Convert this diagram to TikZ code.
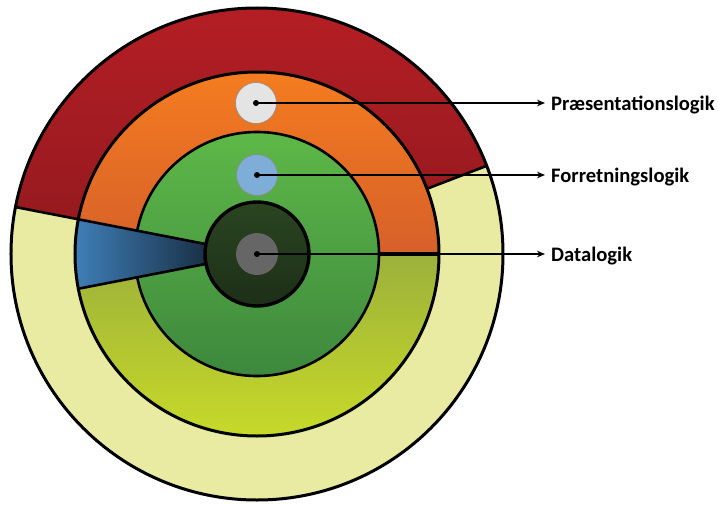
\documentclass[tikz,border=0pt]{standalone}
\usepackage{fontspec}
\setmainfont{Carlito}
\usetikzlibrary{arrows.meta}
\definecolor{lightyel}{HTML}{E9EBA3}
\definecolor{redtop}{HTML}{B81F25}
\definecolor{redbot}{HTML}{961A1F}
\definecolor{orgtop}{HTML}{F47C20}
\definecolor{orgbot}{HTML}{D6602A}
\definecolor{ygtop}{HTML}{9CB13B}
\definecolor{ygbot}{HTML}{CBDD27}
\definecolor{grtop}{HTML}{5EB848}
\definecolor{grbot}{HTML}{3D883D}
\definecolor{dktop}{HTML}{2A4421}
\definecolor{dkbot}{HTML}{1D2F18}
\definecolor{wedgeL}{HTML}{3F7FB8}
\definecolor{wedgeR}{HTML}{0B121A}
\definecolor{coregray}{HTML}{666666}
\definecolor{presgray}{HTML}{E4E4E4}
\definecolor{forrblue}{HTML}{7EAED8}
\begin{document}
\begin{tikzpicture}[x=1pt,y=1pt,
  ring/.style={draw=black,line width=3pt},
  divider/.style={draw=black,line width=2.6pt},
  dotnode/.style={circle,minimum size=41pt,inner sep=0pt,draw=black!45,line width=0.6pt},
  conn/.style={line width=1.6pt,-{Stealth[length=8pt,width=6.5pt]}},
  lbl/.style={anchor=base west,inner xsep=6pt,inner ysep=0pt,font=\bfseries\fontsize{20.6}{24}\selectfont,text=black}
]
\useasboundingbox (-257,-250) rectangle (461,254);
% outer disk
\fill[lightyel] (0,0) circle (246);
% red annular sector
\shade[top color=redtop,bottom color=redbot] (21:182) -- (21:246) arc (21:169:246) -- (169:182) arc (169:21:182) -- cycle;
% orange and yellow-green pies
\shade[top color=orgtop,bottom color=orgbot] (0,0) -- (0:182) arc (0:169:182) -- cycle;
\shade[top color=ygtop,bottom color=ygbot] (0,0) -- (191:182) arc (191:360:182) -- cycle;
% green disk
\shade[top color=grtop,bottom color=grbot] (0,0) circle (122);
\draw[line width=2.6pt] (0,0) circle (122);
% blue wedge
\shade[left color=wedgeL,right color=wedgeR] (0,0) -- (169:182) arc (169:191:182) -- cycle;
% dividers
\draw[divider] (169:52) -- (169:246);
\draw[divider] (191:52) -- (191:182);
\draw[divider] (21:182) -- (21:246);
\draw[line width=3.2pt] (0:122) -- (0:182);
% rings
\draw[ring] (0,0) circle (182);
\draw[ring] (0,0) circle (246);
% dark disk
\shade[top color=dktop,bottom color=dkbot] (0,0) circle (52);
\draw[line width=3.4pt] (0,0) circle (52);
% dots
\node[circle,fill=coregray,minimum size=42pt,inner sep=0pt] (core) at (0,0) {};
\node[dotnode,fill=presgray] (pres) at (-1,151) {};
\node[dotnode,fill=forrblue] (forr) at (0,79) {};
% labels
\node[lbl] (lblP) at (288,143.5) {Præsentationslogik};
\node[lbl] (lblF) at (288,71.5) {Forretningslogik};
\node[lbl] (lblD) at (288,-7.5) {Datalogik};
% connectors
\draw[conn] (pres.center) -- (pres.center -| lblP.west);
\draw[conn] (forr.center) -- (forr.center -| lblF.west);
\draw[conn] (core.center) -- (core.center -| lblD.west);
\fill (pres.center) circle (3);
\fill (forr.center) circle (3);
\fill (core.center) circle (3);
\end{tikzpicture}
\end{document}
